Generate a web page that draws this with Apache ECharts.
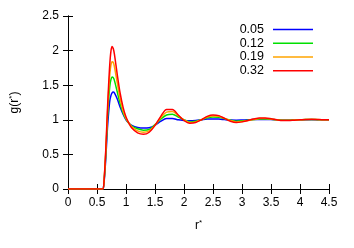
<!DOCTYPE html>
<html><head><meta charset="utf-8">
<script src="https://cdn.jsdelivr.net/npm/echarts@6/dist/echarts.min.js"></script>
<style>html,body{margin:0;padding:0;background:#fff}#c{width:354px;height:248px}</style>
</head><body><div id="c"></div>
<script>
var rValues = [0, 0.55, 0.6, 0.62, 0.65, 0.68, 0.7, 0.72, 0.74, 0.76, 0.78, 0.8, 0.85, 0.9, 0.95, 1.0, 1.05, 1.1, 1.2, 1.3, 1.4, 1.5, 1.6, 1.7, 1.8, 1.9, 2.0, 2.1, 2.2, 2.3, 2.4, 2.5, 2.6, 2.7, 2.8, 2.9, 3.0, 3.1, 3.2, 3.3, 3.4, 3.5, 3.6, 3.7, 3.8, 3.9, 4.0, 4.1, 4.2, 4.3, 4.4, 4.5];
var g005 = [0,0,0,0.08,0.42,0.88,1.1,1.27,1.35,1.39,1.40,1.39,1.30,1.18,1.08,1.0,0.95,0.92,0.89,0.88,0.885,0.92,0.98,1.02,1.02,1.0,0.99,0.985,0.99,1.0,1.01,1.012,1.01,1.003,0.997,0.995,0.997,1.0,1.003,1.005,1.005,1.003,1.0,0.998,0.998,0.999,1.0,1.001,1.001,1.0,1.0,1.0];
var g012 = [0,0,0,0.09,0.48,1.0,1.28,1.48,1.58,1.62,1.61,1.57,1.4,1.23,1.1,1.01,0.95,0.91,0.87,0.85,0.86,0.93,1.01,1.07,1.08,1.04,1.0,0.97,0.98,1.0,1.03,1.04,1.035,1.015,0.995,0.98,0.985,0.995,1.005,1.012,1.013,1.008,1.0,0.995,0.995,0.998,1.0,1.003,1.004,1.002,1.0,1.0];
var g019 = [0,0,0,0.1,0.52,1.08,1.4,1.65,1.79,1.84,1.83,1.77,1.53,1.3,1.13,1.02,0.95,0.9,0.84,0.82,0.84,0.92,1.03,1.11,1.12,1.06,1.0,0.96,0.97,1.0,1.04,1.055,1.05,1.02,0.99,0.97,0.975,0.99,1.005,1.018,1.02,1.012,1.0,0.992,0.992,0.996,1.0,1.004,1.006,1.004,1.0,1.0];
var g032 = [0,0,0,0.1,0.55,1.15,1.5,1.8,1.99,2.06,2.03,1.95,1.65,1.38,1.18,1.04,0.95,0.88,0.81,0.79,0.82,0.92,1.05,1.15,1.15,1.07,0.99,0.95,0.96,1.0,1.05,1.07,1.06,1.02,0.98,0.96,0.97,0.99,1.01,1.025,1.025,1.015,1.0,0.99,0.99,0.995,1.0,1.005,1.008,1.005,1.0,1.0];
var seriesNames = ['0.05', '0.12', '0.19', '0.32'];
var seriesData = [g005, g012, g019, g032];
var colors = ['#0000ff', '#00e000', '#ffa500', '#ff0000'];

function pairs(ys) { return rValues.map(function (r, i) { return [r, ys[i]]; }); }

var font = 'Liberation Sans, Arial, sans-serif';
var axisCommon = {
  axisLine: { show: true, lineStyle: { color: '#000', width: 1 } },
  axisTick: { show: true, inside: true, length: 5, lineStyle: { color: '#000' } },
  splitLine: { show: false }
};
var chart = echarts.init(document.getElementById('c'), null, { renderer: 'canvas' });
chart.setOption({
  animation: false,
  backgroundColor: '#fff',
  textStyle: { fontFamily: font },
  grid: { left: 67, right: 25, top: 16, bottom: 59 },
  legend: {
    orient: 'vertical', right: 41, top: 22.5, align: 'right', padding: 0,
    icon: 'rect', itemWidth: 40, itemHeight: 1.5, itemGap: 0,
    textStyle: { fontFamily: font, fontSize: 12.5, lineHeight: 13.8, color: '#000', padding: [0, 4, 0, 0] },
    data: seriesNames
  },
  xAxis: [
    Object.assign({ type: 'value', min: 0, max: 4.5, interval: 0.5, position: 'bottom',
      name: 'r{sup|*}', nameLocation: 'middle', nameGap: 30,
      nameTextStyle: { fontFamily: font, fontSize: 12, color: '#000', rich: { sup: { fontSize: 8, verticalAlign: 'top', padding: [0,0,6,0] } } },
      axisLabel: { color: '#000', fontSize: 12, fontFamily: font, margin: 8 } }, axisCommon),
    Object.assign({ type: 'value', min: 0, max: 4.5, interval: 0.5, position: 'top', axisLabel: { show: false } }, axisCommon)
  ],
  yAxis: [
    Object.assign({ type: 'value', min: 0, max: 2.5, interval: 0.5, position: 'left',
      name: 'g(r{sup|*})', nameLocation: 'middle', nameGap: 46, nameRotate: 90,
      nameTextStyle: { fontFamily: font, fontSize: 12, color: '#000', rich: { sup: { fontSize: 8, padding: [0,0,6,0] } } },
      axisLabel: { color: '#000', fontSize: 12, fontFamily: font, margin: 9 } }, axisCommon),
    Object.assign({ type: 'value', min: 0, max: 2.5, interval: 0.5, position: 'right', axisLabel: { show: false } }, axisCommon)
  ],
  series: seriesNames.map(function (n, i) {
    return {
      name: n, type: 'line', xAxisIndex: 0, yAxisIndex: 0,
      data: pairs(seriesData[i]), smooth: 0.3, symbol: 'none', showSymbol: false,
      lineStyle: { color: colors[i], width: 1.5 }, itemStyle: { color: colors[i] }
    };
  })
});
</script></body></html>
